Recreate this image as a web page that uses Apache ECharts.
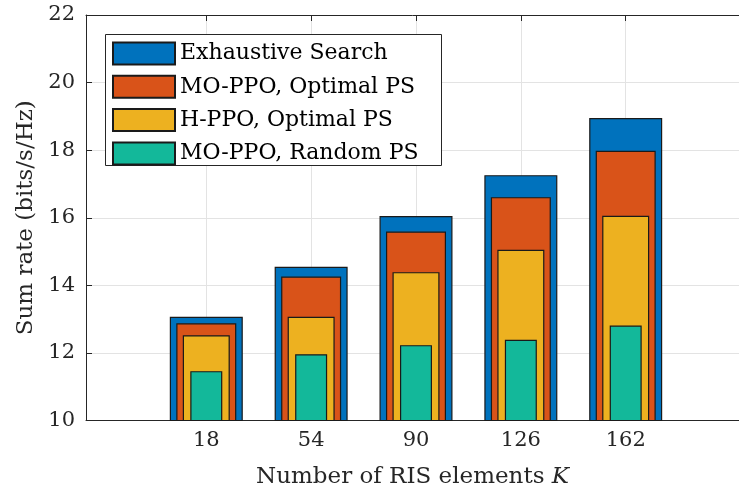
<!DOCTYPE html>
<html>
<head>
<meta charset="utf-8">
<script src="https://cdn.jsdelivr.net/npm/echarts@6/dist/echarts.min.js"></script>
<style>html,body{margin:0;padding:0;background:#fff}#c{width:739px;height:495px}</style>
</head>
<body>
<div id="c"></div>
<script>
const categories = [18, 54, 90, 126, 162];
const seriesNames = ['Exhaustive Search', 'MO-PPO, Optimal PS', 'H-PPO, Optimal PS', 'MO-PPO, Random PS'];
const exhaustive = [13.07, 14.55, 16.05, 17.26, 18.95];
const moppoOptimal = [12.88, 14.26, 15.59, 16.61, 17.98];
const hppoOptimal = [12.52, 13.07, 14.39, 15.05, 16.06];
const moppoRandom = [11.46, 11.96, 12.23, 12.39, 12.81];
const yTicks = [10, 12, 14, 16, 18, 20, 22];

const FONT = 'DejaVu Serif';
const AX = '#262626';
const GRID = '#e3e3e3';
const colors = ['#0072BD', '#D95319', '#EDB120', '#13B89A'];
const widths = [73, 60, 47, 32];
const values = [exhaustive, moppoOptimal, hppoOptimal, moppoRandom];
const XMIN = -23.3, XMAX = 200.9;

const chart = echarts.init(document.getElementById('c'), null, {renderer: 'canvas'});

const xAxes = [];
xAxes.push({
  type: 'value', position: 'bottom', min: XMIN, max: XMAX,
  axisLine: {show: true, onZero: false, lineStyle: {color: AX, width: 1}},
  axisTick: {show: true, inside: true, length: 6, customValues: categories, lineStyle: {color: AX}},
  axisLabel: {show: true, customValues: categories, margin: 10, color: '#262626', fontFamily: FONT, fontSize: 21},
  splitLine: {show: true, lineStyle: {color: GRID, width: 1}},
  name: '{a|Number of RIS elements }{b|K}',
  nameLocation: 'middle', nameGap: 45,
  nameTextStyle: {
    color: '#262626', fontFamily: FONT, fontSize: 23,
    rich: {a: {fontFamily: FONT, fontSize: 23, color: '#262626'}, b: {fontFamily: FONT, fontSize: 23, fontStyle: 'italic', color: '#262626'}}
  }
});
for (let i = 1; i < 4; i++) {
  xAxes.push({type: 'value', min: XMIN, max: XMAX, show: false, position: 'bottom'});
}
xAxes.push({
  type: 'value', position: 'top', min: XMIN, max: XMAX,
  axisLine: {show: true, onZero: false, lineStyle: {color: AX, width: 1}},
  axisTick: {show: true, inside: true, length: 6, customValues: categories, lineStyle: {color: AX}},
  axisLabel: {show: false},
  splitLine: {show: false}
});

const series = values.map((arr, i) => ({
  name: seriesNames[i],
  type: 'bar',
  xAxisIndex: i,
  yAxisIndex: 0,
  barWidth: widths[i],
  z: 2 + i,
  data: categories.map((c, j) => [c, arr[j]]),
  itemStyle: {color: colors[i], borderColor: '#1a1a1a', borderWidth: 1.2}
}));

chart.setOption({
  animation: false,
  backgroundColor: '#fff',
  grid: {left: 86, right: 0, top: 15, bottom: 74.5, containLabel: false},
  xAxis: xAxes,
  yAxis: [{
    type: 'value', min: yTicks[0], max: yTicks[yTicks.length - 1], interval: 2,
    position: 'left',
    axisLine: {show: true, onZero: false, lineStyle: {color: AX, width: 1}},
    axisTick: {show: true, inside: true, length: 6, lineStyle: {color: AX}},
    axisLabel: {margin: 11, color: '#262626', fontFamily: FONT, fontSize: 21},
    splitLine: {show: true, lineStyle: {color: GRID, width: 1}},
    name: 'Sum rate (bits/s/Hz)', nameLocation: 'middle', nameGap: 46, nameRotate: 90,
    nameTextStyle: {color: '#262626', fontFamily: FONT, fontSize: 23}
  }],
  legend: {
    orient: 'vertical', left: 112, top: 41.5, padding: 0,
    itemWidth: 62, itemHeight: 22, itemGap: 9.3, icon: 'rect',
    selectedMode: false, z: 10,
    data: seriesNames,
    textStyle: {color: '#000', fontFamily: FONT, fontSize: 22}
  },
  graphic: [{
    type: 'rect', z: 9, shape: {x: 105.5, y: 34.5, width: 336, height: 131},
    style: {fill: '#fff', stroke: AX, lineWidth: 1}
  }],
  series: series
});
</script>
</body>
</html>
